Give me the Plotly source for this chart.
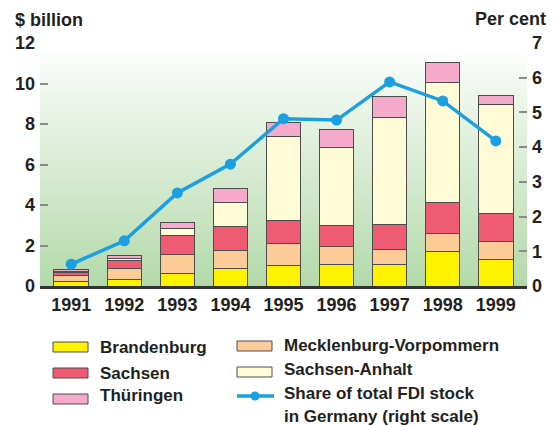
import base64
import plotly.graph_objects as go

# ── data ──────────────────────────────────────────────────────────────────────
years = ["1991", "1992", "1993", "1994", "1995", "1996", "1997", "1998", "1999"]

brandenburg = [0.20, 0.33, 0.63, 0.85, 0.99, 1.08, 1.05, 1.71, 1.32]
mecklenburg = [0.33, 0.54, 0.95, 0.89, 1.12, 0.86, 0.76, 0.89, 0.88]
sachsen     = [0.13, 0.38, 0.89, 1.22, 1.14, 1.05, 1.25, 1.51, 1.38]
s_anhalt    = [0.05, 0.12, 0.36, 1.18, 4.11, 3.85, 5.26, 5.95, 5.36]
thueringen  = [0.12, 0.14, 0.33, 0.66, 0.69, 0.89, 1.05, 0.99, 0.46]
fdi_share   = [0.63, 1.30, 2.68, 3.51, 4.82, 4.78, 5.88, 5.33, 4.18]

left_ticks = [0, 2, 4, 6, 8, 10, 12]
right_ticks = [0, 1, 2, 3, 4, 5, 6, 7]

# ── styling ───────────────────────────────────────────────────────────────────
FONT = "Liberation Sans, Arial, sans-serif"
INK = "#231f20"
OUTLINE = "#4d4d4d"
COLORS = {
    "Brandenburg": "#fff200",
    "Mecklenburg-Vorpommern": "#fdcb97",
    "Sachsen": "#ef5b73",
    "Sachsen-Anhalt": "#fffbd6",
    "Thüringen": "#f5a9cb",
}
LINE_BLUE = "#1a9fe0"

# plot area in pixels
W, H = 558, 426
L, R, T, B = 40, 31, 43, 140
PW, PH = W - L - R, H - T - B


def px(x):
    return (x - L) / PW


def py(y):
    return (H - B - y) / PH


series = [
    ("Brandenburg", brandenburg),
    ("Mecklenburg-Vorpommern", mecklenburg),
    ("Sachsen", sachsen),
    ("Sachsen-Anhalt", s_anhalt),
    ("Thüringen", thueringen),
]

fig = go.Figure()
for name, vals in series:
    fig.add_bar(x=years, y=vals, name=name, marker_color=COLORS[name],
                marker_line=dict(color=OUTLINE, width=1), showlegend=False)

fig.add_trace(go.Scatter(x=years, y=fdi_share, yaxis="y2", mode="lines+markers",
                         name="Share of total FDI stock in Germany (right scale)",
                         line=dict(color=LINE_BLUE, width=3.5),
                         marker=dict(color=LINE_BLUE, size=11), showlegend=False))

# gradient background (white -> pale green)
svg = ("<svg xmlns='http://www.w3.org/2000/svg' width='100' height='100' preserveAspectRatio='none'>"
       "<defs><linearGradient id='g' x1='0' y1='0' x2='0' y2='1'>"
       "<stop offset='0' stop-color='#ffffff'/><stop offset='1' stop-color='#b3d9aa'/>"
       "</linearGradient></defs><rect width='100' height='100' fill='url(#g)'/></svg>")
bg = "data:image/svg+xml;base64," + base64.b64encode(svg.encode()).decode()

tickfont = dict(family=FONT, size=18, color=INK, weight="bold")

fig.update_layout(
    width=W, height=H,
    margin=dict(l=L, r=R, t=T, b=B),
    paper_bgcolor="white", plot_bgcolor="rgba(0,0,0,0)",
    barmode="stack", bargap=0.35,
    font=dict(family=FONT, color=INK),
    images=[dict(source=bg, xref="paper", yref="paper", x=0, y=1, sizex=1, sizey=1,
                 sizing="stretch", layer="below")],
    xaxis=dict(showgrid=False, zeroline=False, showline=True, linecolor="#333333",
               linewidth=3, ticks="", tickfont=tickfont, fixedrange=True),
    yaxis=dict(range=[0, 12], tickvals=left_ticks, showgrid=False, zeroline=False,
               showline=False, ticks="inside", ticklen=8, tickcolor="#8a8a8a",
               tickwidth=1.5, tickfont=tickfont, ticklabelstandoff=4),
    yaxis2=dict(range=[0, 7], tickvals=right_ticks, overlaying="y", side="right",
                showgrid=False, zeroline=False, showline=False, ticks="inside",
                ticklen=8, tickcolor="#8a8a8a", tickwidth=1.5, tickfont=tickfont,
                ticklabelstandoff=4),
    showlegend=False,
)

title_font = dict(family=FONT, size=18, color=INK, weight="bold")
fig.add_annotation(text="$ billion", xref="paper", yref="paper", x=px(13), y=py(20),
                   xanchor="left", yanchor="middle", showarrow=False, font=title_font)
fig.add_annotation(text="Per cent", xref="paper", yref="paper", x=px(548), y=py(19),
                   xanchor="right", yanchor="middle", showarrow=False, font=title_font)

# ── manual legend ─────────────────────────────────────────────────────────────
leg_font = dict(family=FONT, size=17, color=INK, weight="bold")
legend_items = [
    ("Brandenburg", 53, 342, 347),
    ("Sachsen", 53, 368, 373),
    ("Thüringen", 53, 394, 395),
    ("Mecklenburg-Vorpommern", 237, 341, 345),
    ("Sachsen-Anhalt", 237, 367, 369),
]
for name, x0, y0, ty in legend_items:
    fig.add_shape(type="rect", xref="paper", yref="paper",
                  x0=px(x0), x1=px(x0 + 35), y0=py(y0), y1=py(y0 + 10),
                  fillcolor=COLORS[name], line=dict(color=OUTLINE, width=1))
    fig.add_annotation(text=name, xref="paper", yref="paper", x=px(x0 + 45), y=py(ty),
                       xanchor="left", yanchor="middle", showarrow=False, font=leg_font)

fig.add_shape(type="line", xref="paper", yref="paper", x0=px(237), x1=px(274),
              y0=py(396), y1=py(396), line=dict(color=LINE_BLUE, width=3.5))
fig.add_shape(type="circle", xref="paper", yref="paper", x0=px(250.5), x1=px(259.5),
              y0=py(391.5), y1=py(400.5), fillcolor=LINE_BLUE, line=dict(color=LINE_BLUE, width=0))
fig.add_annotation(text="Share of total FDI stock", xref="paper", yref="paper", x=px(282), y=py(393),
                   xanchor="left", yanchor="middle", showarrow=False, font=leg_font)
fig.add_annotation(text="in Germany (right scale)", xref="paper", yref="paper", x=px(282), y=py(416),
                   xanchor="left", yanchor="middle", showarrow=False, font=leg_font)

fig.write_html("out.html", config={"displayModeBar": False},
               post_script="document.body.style.margin='0';")
